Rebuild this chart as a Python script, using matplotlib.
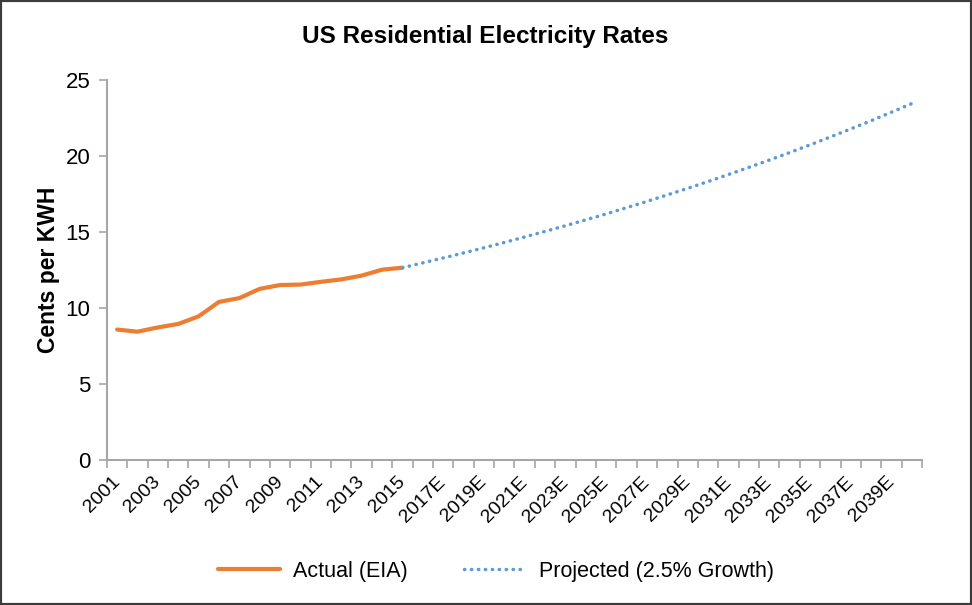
import matplotlib.pyplot as plt
from matplotlib.patches import Rectangle

plt.rcParams['font.family'] = ['Liberation Sans', 'DejaVu Sans']

# years on the category axis
years = [str(y) for y in range(2001, 2016)] + [str(y) + 'E' for y in range(2016, 2041)]

# actual rates 2001-2015 (cents per kWh)
actual = [8.58, 8.44, 8.72, 8.95, 9.45, 10.40, 10.65, 11.26, 11.51, 11.54,
          11.72, 11.88, 12.13, 12.52, 12.65]

# projected 2015-2040
projected = [12.65, 12.97, 13.29, 13.62, 13.96, 14.31, 14.67, 15.04, 15.41, 15.80,
             16.19, 16.60, 17.01, 17.44, 17.87, 18.32, 18.78, 19.25, 19.73, 20.22,
             20.73, 21.25, 21.78, 22.32, 22.88, 23.45]

fig = plt.figure(figsize=(9.72, 6.05), dpi=100)
ax = fig.add_axes([0.110, 0.2397, 0.8386, 0.6281])

x_act = list(range(len(actual)))
x_proj = list(range(len(actual) - 1, len(actual) - 1 + len(projected)))

ax.plot(x_act, actual, color='#ED7D31', linewidth=3, solid_capstyle='round',
        label='Actual (EIA)')
ax.plot(x_proj, projected, color='#5B9BD5', linewidth=2.5, linestyle=(0, (0.1, 1.9)),
        dash_capstyle='round', label='Projected (2.5% Growth)')

ax.set_xlim(-0.5, len(years) - 0.5)
ax.set_ylim(0, 25)
ax.set_yticks([0, 5, 10, 15, 20, 25])

# labels every other category, tick marks on category boundaries
ax.set_xticks(range(0, len(years), 2))
ax.set_xticklabels(years[::2], rotation=45, ha='right', va='center',
                   rotation_mode='anchor', fontsize=14)
ax.set_xticks([i - 0.5 for i in range(len(years) + 1)], minor=True)
ax.tick_params(axis='x', which='major', length=0, pad=14)
ax.tick_params(axis='x', which='minor', length=6, color='#A6A6A6', width=1.2)
ax.tick_params(axis='y', length=6, color='#A6A6A6', width=1.2, labelsize=16, pad=6)

for s in ['top', 'right']:
    ax.spines[s].set_visible(False)
for s in ['left', 'bottom']:
    ax.spines[s].set_color('#A6A6A6')
    ax.spines[s].set_linewidth(1.5)

ax.set_ylabel('Cents per KWH', fontsize=16.5, fontweight='bold', labelpad=4)
fig.text(0.499, 0.939, 'US Residential Electricity Rates', ha='center', va='center',
         fontsize=17.5, fontweight='bold')

ax.legend(loc='center', bbox_to_anchor=(0.51, 0.056), bbox_transform=fig.transFigure,
          ncol=2, frameon=False, fontsize=15.5, handlelength=2.9, handletextpad=0.6,
          columnspacing=2.6)

fig.patches.append(Rectangle((0, 0), 1, 1, transform=fig.transFigure, fill=False,
                             edgecolor='#3C3C3C', linewidth=3))

fig.savefig('out.png', dpi=100)
